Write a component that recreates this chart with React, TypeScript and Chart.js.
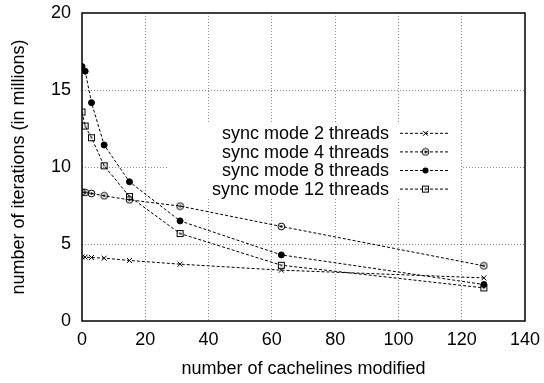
import React, { useEffect, useRef } from 'react';
import { Chart, registerables } from 'chart.js';

Chart.register(...registerables);

// ---- data ----
const xValues = [0, 1, 3, 7, 15, 31, 63, 127];
const seriesLabels = [
  'sync mode 2 threads',
  'sync mode 4 threads',
  'sync mode 8 threads',
  'sync mode 12 threads',
];
const threads2 = [4.16, 4.15, 4.12, 4.08, 3.93, 3.69, 3.3, 2.8];
const threads4 = [8.37, 8.35, 8.28, 8.13, 7.87, 7.46, 6.14, 3.58];
const threads8 = [16.52, 16.22, 14.18, 11.43, 9.04, 6.5, 4.29, 2.37];
const threads12 = [13.57, 12.66, 11.9, 10.08, 8.08, 5.68, 3.62, 2.15];
const xAxisTitle = 'number of cachelines modified';
const yAxisTitle = 'number of iterations (in millions)';
const xMin = 0, xMax = 140, xStep = 20;
const yMin = 0, yMax = 20, yStep = 5;

const FONT = "'Liberation Sans', Arial, Helvetica, sans-serif";
const FONT_SIZE = 18;

function makeMarker(kind: string): HTMLCanvasElement {
  const c = document.createElement('canvas');
  c.width = 9;
  c.height = 9;
  const g = c.getContext('2d')!;
  g.strokeStyle = '#000';
  g.fillStyle = '#000';
  g.lineWidth = 1;
  if (kind === 'circleDot') {
    g.beginPath();
    g.arc(4.5, 4.5, 3.4, 0, Math.PI * 2);
    g.stroke();
    g.beginPath();
    g.arc(4.5, 4.5, 1.2, 0, Math.PI * 2);
    g.fill();
  } else if (kind === 'squareDot') {
    g.strokeRect(1.5, 1.5, 6, 6);
    g.fillStyle = '#555';
    g.fillRect(3.5, 3.5, 2, 2);
  }
  return c;
}

export default function App() {
  const ref = useRef<HTMLCanvasElement>(null);

  useEffect(() => {
    if (!ref.current) return;
    const circleDot = makeMarker('circleDot');
    const squareDot = makeMarker('squareDot');

    const seriesValues = [threads2, threads4, threads8, threads12];
    const styles: any[] = [
      { pointStyle: 'crossRot', radius: 3.5, bg: '#000' },
      { pointStyle: circleDot, radius: 4.5, bg: '#000' },
      { pointStyle: 'circle', radius: 3, bg: '#000' },
      { pointStyle: squareDot, radius: 4.5, bg: '#000' },
    ];

    const datasets = seriesValues.map((vals, i) => ({
      label: seriesLabels[i],
      data: vals.map((v, j) => ({ x: xValues[j], y: v })),
      borderColor: '#000',
      backgroundColor: styles[i].bg,
      borderWidth: 1,
      borderDash: [3, 2],
      pointStyle: styles[i].pointStyle,
      pointRadius: styles[i].radius,
      pointBorderWidth: 1,
      pointBorderColor: '#000',
      pointBackgroundColor: '#000',
      tension: 0,
      fill: false,
    }));

    const gridColor = (max: number) => (ctx: any) =>
      ctx.tick && (ctx.tick.value === 0 || ctx.tick.value === max) ? 'rgba(0,0,0,0)' : '#8a8a8a';

    const frameLegendPlugin = {
      id: 'frameLegend',
      beforeDatasetsDraw(chart: any) {
        const { ctx, chartArea } = chart;
        const L = chartArea.left;
        const T = chartArea.top;
        ctx.save();
        ctx.fillStyle = '#fff';
        ctx.fillRect(L + 85, T + 110, 294, 74);
        ctx.restore();
      },
      afterDraw(chart: any) {
        const { ctx, chartArea } = chart;
        const L = chartArea.left;
        const T = chartArea.top;
        // frame
        ctx.save();
        ctx.strokeStyle = '#000';
        ctx.lineWidth = 1.5;
        ctx.strokeRect(chartArea.left, chartArea.top, chartArea.right - chartArea.left, chartArea.bottom - chartArea.top);
        // legend
        ctx.font = `${FONT_SIZE}px ${FONT}`;
        ctx.fillStyle = '#000';
        ctx.textAlign = 'right';
        ctx.textBaseline = 'middle';
        const textX = L + 307;
        const lineX0 = L + 318;
        const lineX1 = L + 368;
        const markX = L + 343.5;
        seriesLabels.forEach((lab, i) => {
          const y = T + 120.3 + i * 18.6;
          ctx.fillText(lab, textX, y + 1);
          ctx.save();
          ctx.setLineDash([3, 2]);
          ctx.lineWidth = 1;
          ctx.strokeStyle = '#000';
          ctx.beginPath();
          ctx.moveTo(lineX0, y);
          ctx.lineTo(lineX1, y);
          ctx.stroke();
          ctx.restore();
          const st = styles[i].pointStyle;
          if (st === 'crossRot') {
            const r = 3.5 * Math.SQRT1_2;
            ctx.beginPath();
            ctx.lineWidth = 1;
            ctx.moveTo(markX - r, y - r);
            ctx.lineTo(markX + r, y + r);
            ctx.moveTo(markX + r, y - r);
            ctx.lineTo(markX - r, y + r);
            ctx.stroke();
          } else if (st === 'circle') {
            ctx.beginPath();
            ctx.arc(markX, y, 3, 0, Math.PI * 2);
            ctx.fill();
          } else {
            ctx.drawImage(st, markX - 4.5, y - 4.5, 9, 9);
          }
        });
        ctx.restore();
      },
    };

    const chart = new Chart(ref.current, {
      type: 'line',
      data: { datasets },
      options: {
        animation: false,
        responsive: false,
        devicePixelRatio: 1,
        layout: { padding: { top: 13, right: 19, left: 0, bottom: 0 } },
        plugins: {
          legend: { display: false },
          tooltip: { enabled: false },
        },
        scales: {
          x: {
            type: 'linear',
            min: xMin,
            max: xMax,
            afterFit: (s: any) => {
              s.height = 62;
              s.paddingLeft = 0;
              s.paddingRight = 0;
            },
            ticks: {
              stepSize: xStep,
              color: '#000',
              font: { family: FONT, size: FONT_SIZE },
              padding: 8,
              maxRotation: 0,
            },
            grid: { color: gridColor(xMax), lineWidth: 1, drawTicks: false },
            border: { display: false, dash: [1, 2] },
            title: {
              display: true,
              text: xAxisTitle,
              color: '#000',
              font: { family: FONT, size: FONT_SIZE },
              padding: { top: 0, bottom: 3 },
            },
          },
          y: {
            type: 'linear',
            min: yMin,
            max: yMax,
            afterFit: (s: any) => {
              s.width = 82;
              s.paddingTop = 0;
              s.paddingBottom = 0;
            },
            ticks: {
              stepSize: yStep,
              color: '#000',
              font: { family: FONT, size: FONT_SIZE },
              padding: 11,
            },
            grid: { color: gridColor(yMax), lineWidth: 1, drawTicks: false },
            border: { display: false, dash: [1, 2] },
            title: {
              display: true,
              text: yAxisTitle,
              color: '#000',
              font: { family: FONT, size: FONT_SIZE },
              padding: { top: 8, bottom: 0 },
            },
          },
        },
      },
      plugins: [frameLegendPlugin],
    } as any);

    return () => chart.destroy();
  }, []);

  return (
    <div style={{ position: 'absolute', left: 0, top: 0, width: 544, height: 383, background: '#fff' }}>
      <canvas ref={ref} width={544} height={383} style={{ display: 'block' }} />
    </div>
  );
}
